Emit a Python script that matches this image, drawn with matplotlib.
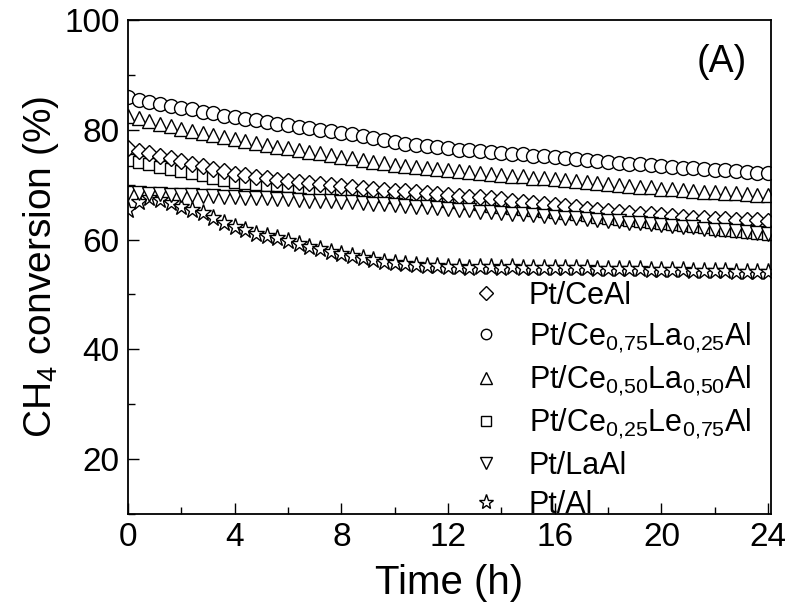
import numpy as np
import matplotlib
matplotlib.use("Agg")
import matplotlib.pyplot as plt
from matplotlib.lines import Line2D
from matplotlib.ticker import MultipleLocator

plt.rcParams['font.family'] = ['Liberation Sans', 'DejaVu Sans']
plt.rcParams['mathtext.fontset'] = 'custom'
plt.rcParams['mathtext.rm'] = 'Liberation Sans'
plt.rcParams['mathtext.it'] = 'Liberation Sans'
plt.rcParams['mathtext.bf'] = 'Liberation Sans:bold'

# ---- data (time in h, CH4 conversion in %) ----
time_h = np.round(np.arange(61) * 0.4, 1)

pt_ceal = [76.6, 76.1, 75.7, 75.2, 74.8, 74.3,
           73.8, 73.4, 72.9, 72.5, 72.0,
           71.7, 71.4, 71.2, 70.9, 70.6,
           70.4, 70.3, 70.1, 70.0, 69.8,
           69.6, 69.4, 69.3, 69.1, 68.9,
           68.8, 68.6, 68.5, 68.3, 68.2,
           68.0, 67.8, 67.7, 67.5, 67.3,
           67.1, 66.9, 66.7, 66.5, 66.3,
           66.1, 65.9, 65.6, 65.4, 65.2,
           65.0, 64.9, 64.7, 64.6, 64.4,
           64.3, 64.2, 64.0, 63.9, 63.8,
           63.7, 63.6, 63.6, 63.5, 63.4]

pt_ce075la025 = [85.9, 85.5, 85.1, 84.7, 84.3, 84.0,
                 83.7, 83.3, 83.0, 82.6, 82.3,
                 82.0, 81.7, 81.4, 81.1, 80.8,
                 80.5, 80.3, 80.0, 79.8, 79.5,
                 79.2, 78.8, 78.5, 78.1, 77.8,
                 77.5, 77.3, 77.1, 76.8, 76.6,
                 76.4, 76.3, 76.1, 76.0, 75.8,
                 75.6, 75.5, 75.3, 75.2, 75.0,
                 74.8, 74.6, 74.5, 74.3, 74.1,
                 74.0, 73.8, 73.7, 73.5, 73.4,
                 73.3, 73.1, 73.0, 72.8, 72.7,
                 72.6, 72.5, 72.3, 72.2, 72.1]

pt_ce050la050 = [82.6, 82.1, 81.6, 81.1, 80.6, 80.2,
                 79.8, 79.4, 79.1, 78.7, 78.3,
                 78.0, 77.6, 77.3, 76.9, 76.6,
                 76.3, 76.0, 75.7, 75.4, 75.1,
                 74.8, 74.5, 74.2, 73.9, 73.6,
                 73.4, 73.2, 73.0, 72.8, 72.6,
                 72.4, 72.3, 72.1, 72.0, 71.8,
                 71.6, 71.5, 71.3, 71.2, 71.0,
                 70.8, 70.6, 70.5, 70.3, 70.1,
                 69.9, 69.8, 69.6, 69.5, 69.3,
                 69.2, 69.0, 68.9, 68.7, 68.6,
                 68.5, 68.4, 68.3, 68.2, 68.1]

pt_ce025le075 = [74.5, 74.1, 73.7, 73.3, 72.9, 72.5,
                 72.1, 71.7, 71.3, 70.9, 70.5,
                 70.3, 70.2, 70.0, 69.9, 69.7,
                 69.5, 69.3, 69.2, 69.0, 68.8,
                 68.6, 68.4, 68.2, 68.0, 67.8,
                 67.6, 67.5, 67.3, 67.2, 67.0,
                 66.8, 66.6, 66.4, 66.2, 66.0,
                 65.8, 65.6, 65.4, 65.2, 65.0,
                 64.8, 64.6, 64.4, 64.2, 64.0,
                 63.8, 63.6, 63.4, 63.2, 63.0,
                 62.8, 62.6, 62.4, 62.2, 62.0,
                 61.8, 61.6, 61.4, 61.2, 61.0]

pt_laal = [68.4, 68.4, 68.3, 68.3, 68.2, 68.2,
           68.1, 68.0, 67.9, 67.8, 67.7,
           67.6, 67.5, 67.5, 67.4, 67.3,
           67.2, 67.1, 67.1, 67.0, 66.9,
           66.8, 66.7, 66.5, 66.4, 66.3,
           66.2, 66.0, 65.9, 65.7, 65.6,
           65.4, 65.3, 65.1, 65.0, 64.8,
           64.7, 64.6, 64.4, 64.3, 64.2,
           64.0, 63.9, 63.7, 63.6, 63.4,
           63.3, 63.1, 63.0, 62.8, 62.7,
           62.5, 62.3, 62.2, 62.0, 61.8,
           61.7, 61.5, 61.4, 61.2, 61.1]

pt_al = [65.4, 66.8, 67.5, 67.2, 66.6, 66.0,
         65.4, 64.8, 64.0, 63.1, 62.2,
         61.7, 61.1, 60.6, 60.2, 59.7,
         59.2, 58.7, 58.3, 57.8, 57.3,
         57.0, 56.6, 56.3, 56.0, 55.7,
         55.5, 55.4, 55.2, 55.1, 55.0,
         55.0, 54.9, 55.0, 55.0, 54.9,
         55.0, 54.9, 54.9, 54.9, 54.9,
         54.8, 54.8, 54.8, 54.7, 54.7,
         54.7, 54.6, 54.6, 54.5, 54.5,
         54.4, 54.4, 54.3, 54.3, 54.2,
         54.2, 54.1, 54.1, 54.0, 54.0]

labels = [r'Pt/CeAl',
          r'Pt/Ce$_{0{,}75}$La$_{0{,}25}$Al',
          r'Pt/Ce$_{0{,}50}$La$_{0{,}50}$Al',
          r'Pt/Ce$_{0{,}25}$Le$_{0{,}75}$Al',
          r'Pt/LaAl',
          r'Pt/Al']
x_ticks = [0, 4, 8, 12, 16, 20, 24]
y_ticks = [20, 40, 60, 80, 100]

# ---- figure ----
fig = plt.figure(figsize=(7.85, 6.14), dpi=100)
ax = fig.add_axes([128/785, 1-514/614, (771-128)/785, (514-20)/614])

style = dict(linestyle='none', markerfacecolor='white', markeredgecolor='black',
             markeredgewidth=1.0)
# draw order (bottom to top)
ax.plot(time_h, pt_al, marker='*', markersize=12.5, **style)
ax.plot(time_h, pt_ce025le075, marker='s', markersize=8.5, **style)
ax.plot(time_h, pt_ceal, marker='D', markersize=8.5, **style)
ax.plot(time_h, pt_laal, marker='v', markersize=10.5, **style)
ax.plot(time_h, pt_ce050la050, marker='^', markersize=10.5, **style)
ax.plot(time_h, pt_ce075la025, marker='o', markersize=10, **style)

ax.set_xlim(0, 24.11)
ax.set_ylim(10, 100)
ax.set_xticks(x_ticks)
ax.set_yticks(y_ticks)
ax.xaxis.set_minor_locator(MultipleLocator(2))
ax.yaxis.set_minor_locator(MultipleLocator(10))
ax.tick_params(which='both', direction='in', top=False, right=False,
               labelsize=24, width=1.0)
ax.tick_params(which='major', length=8, pad=6)
ax.tick_params(which='minor', length=5)
for s in ax.spines.values():
    s.set_linewidth(1.3)

ax.set_xlabel('Time (h)', fontsize=29, labelpad=8)
ax.set_ylabel(r'CH$_4$ conversion (%)', fontsize=28, labelpad=2)

ax.text(0.962, 0.915, '(A)', transform=ax.transAxes, fontsize=27,
        ha='right', va='center')

leg_markers = ['D', 'o', '^', 's', 'v', '*']
leg_sizes = [7.5, 7.5, 8.5, 7, 8.5, 11]
handles = [Line2D([], [], marker=m, markersize=ms, **style)
           for m, ms in zip(leg_markers, leg_sizes)]
ax.legend(handles, labels, loc='lower left', bbox_to_anchor=(0.5, -0.055),
          frameon=False, fontsize=22, handlelength=1.0, handletextpad=0.9,
          labelspacing=0.3, borderpad=0.2)

fig.savefig('out.png', dpi=100)
